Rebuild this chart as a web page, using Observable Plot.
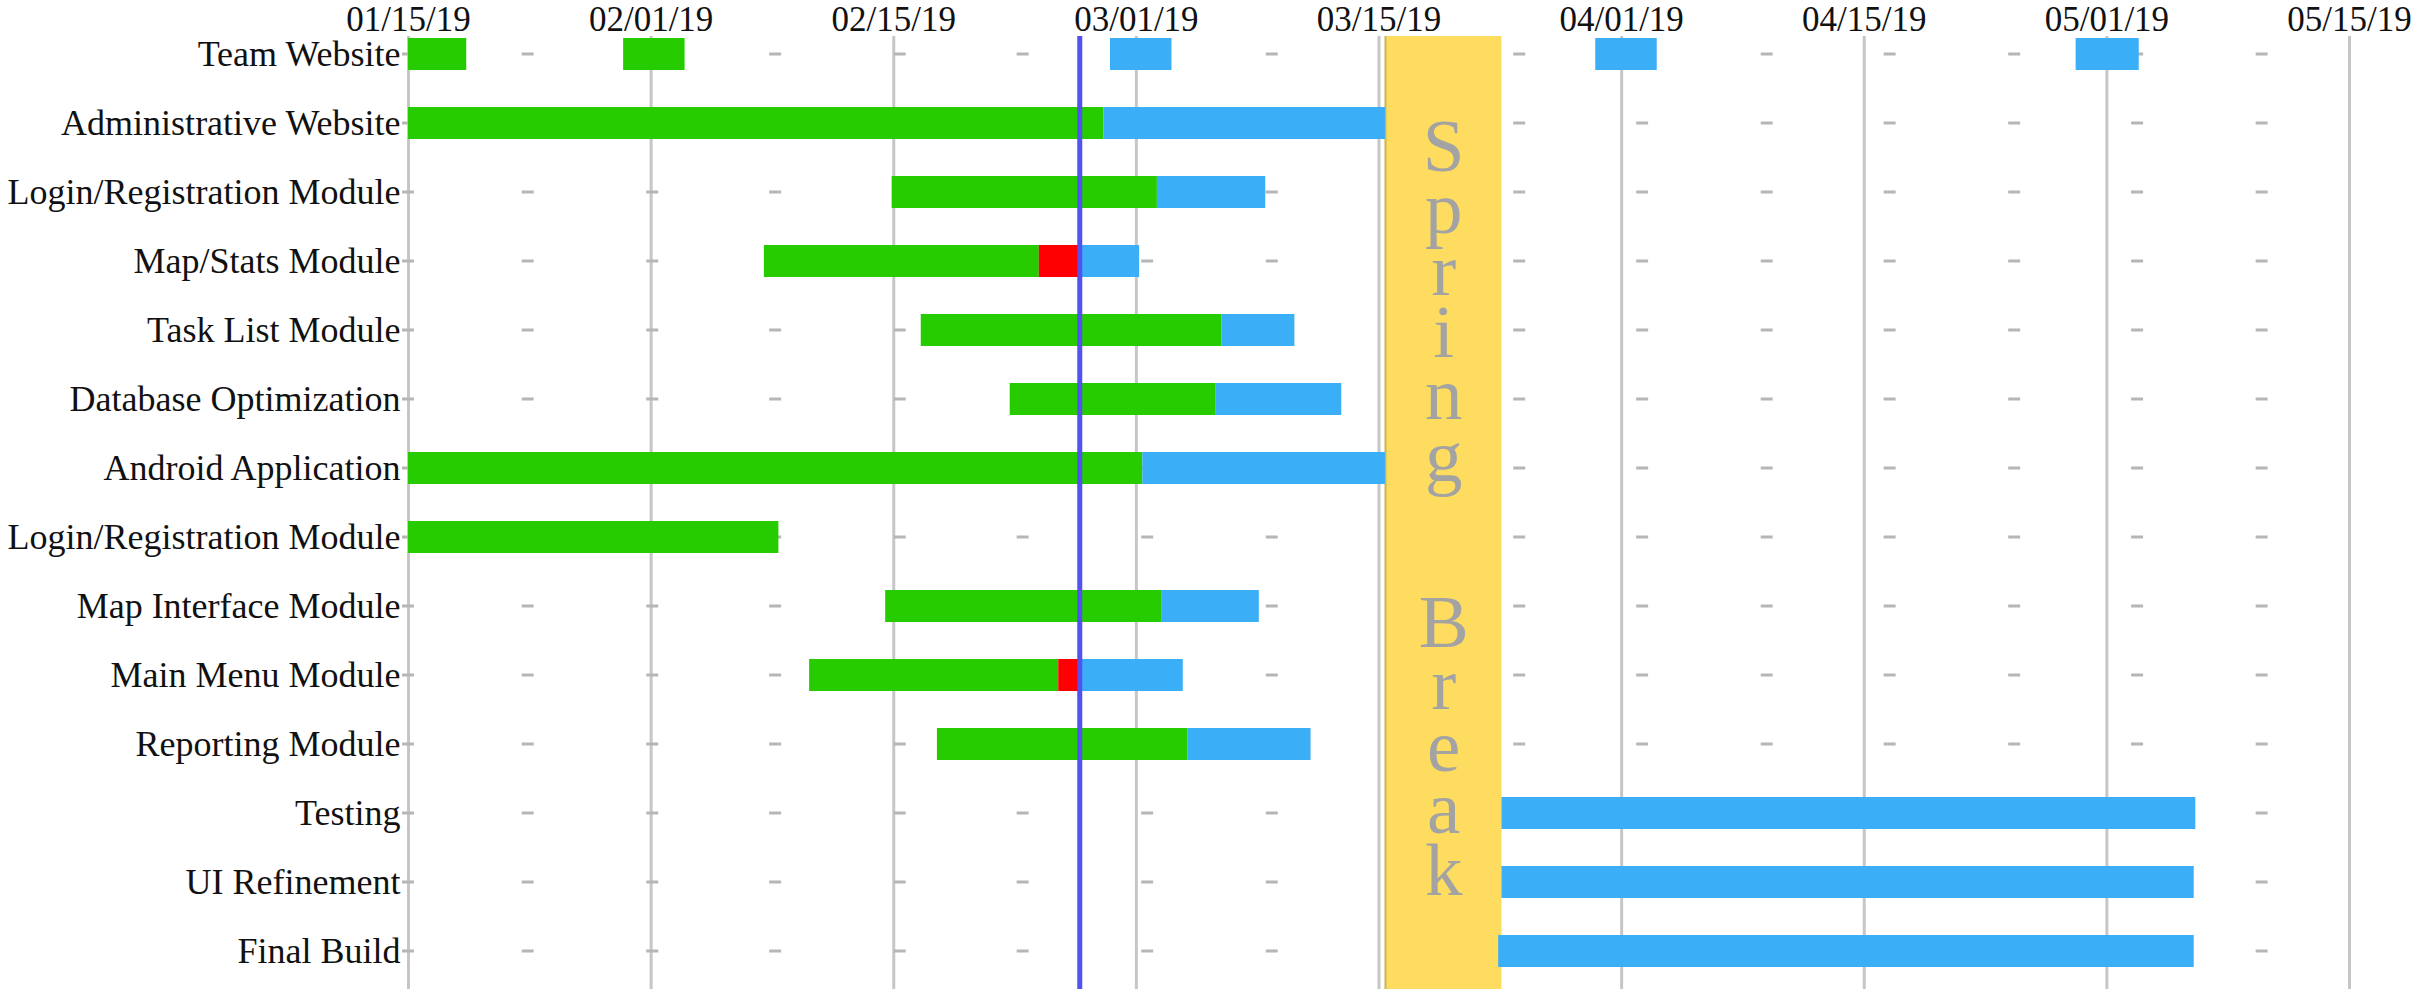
<!DOCTYPE html>
<html>
<head>
<meta charset="utf-8">
<script src="https://cdn.jsdelivr.net/npm/d3@7"></script>
<script src="https://cdn.jsdelivr.net/npm/@observablehq/plot@0.6"></script>
<style>
  html, body { margin: 0; padding: 0; background: #fff; }
  #chart svg { display: block; }
</style>
</head>
<body>
<div id="chart"></div>
<script>
// ---- data (x values are days since 01/15/19) ----
const tasks = [
  "Team Website",
  "Administrative Website",
  "Login/Registration Module",
  "Map/Stats Module",
  "Task List Module",
  "Database Optimization",
  "Android Application",
  "Login/Registration Module",
  "Map Interface Module",
  "Main Menu Module",
  "Reporting Module",
  "Testing",
  "UI Refinement",
  "Final Build"
];
const tickDays = [0, 15, 30, 45, 60, 75, 90, 105, 120];
const tickLabels = ["01/15/19", "02/01/19", "02/15/19", "03/01/19", "03/15/19", "04/01/19", "04/15/19", "05/01/19", "05/15/19"];
const minorDays = [0, 7.4, 15.1, 22.7, 30.4, 38.0, 45.7, 53.4, 61.0, 68.7, 76.3, 84.0, 91.6, 99.3, 106.9, 114.6];

const segRow    = [0, 0, 0, 0, 0,   1, 1,   2, 2,   3, 3, 3,   4, 4,   5, 5,   6, 6,   7,   8, 8,   9, 9, 9,   10, 10,   11, 12, 13];
const segStart  = [0, 13.3, 43.4, 73.4, 103.1,   0, 43.0,   29.9, 46.3,   22.0, 39.0, 41.5,   31.7, 50.3,   37.2, 49.9,   0, 45.4,   0,   29.5, 46.6,   24.8, 40.2, 41.5,   32.7, 48.2,   67.6, 67.6, 67.4];
const segEnd    = [3.6, 17.1, 47.2, 77.2, 107.0,   43.0, 60.4,   46.3, 53.0,   39.0, 41.5, 45.2,   50.3, 54.8,   49.9, 57.7,   45.4, 60.4,   22.9,   46.6, 52.6,   40.2, 41.5, 47.9,   48.2, 55.8,   110.5, 110.4, 110.4];
const segStatus = ["done", "done", "planned", "planned", "planned",
  "done", "planned",  "done", "planned",  "done", "late", "planned",
  "done", "planned",  "done", "planned",  "done", "planned",  "done",
  "done", "planned",  "done", "late", "planned",  "done", "planned",
  "planned", "planned", "planned"];

const springBreak = [60.4, 67.6];
const springWords = ["Spring", "Break"];
const springWordRows = [4, 10];
const today = 41.5;

const statusNames = ["done", "late", "planned"];
const statusColors = ["#27cc00", "#ff0000", "#3aaef7"];

// ---- build tables ----
const segments = segRow.map((r, i) => ({row: r, start: segStart[i], end: segEnd[i], status: segStatus[i]}));
const dashes = d3.cross(d3.range(tasks.length), minorDays).map(([row, day]) => ({row, day}));
const springText = springWords.map((w, i) => ({
  x: (springBreak[0] + springBreak[1]) / 2,
  row: springWordRows[i],
  text: w.split("").join("\n")
}));

const font = "'Liberation Serif', 'Times New Roman', serif";

const chart = Plot.plot({
  width: 2412,
  height: 995,
  marginLeft: 408,
  marginRight: 63,
  marginTop: 16,
  marginBottom: 6,
  style: {fontFamily: font, background: "#fff", color: "#111"},
  x: {domain: [0, 120], axis: null},
  y: {type: "band", domain: d3.range(tasks.length), paddingInner: 0.54, paddingOuter: 0.27, axis: null},
  color: {domain: statusNames, range: statusColors},
  marks: [
    Plot.ruleX(tickDays, {stroke: "#c6c6c6", strokeWidth: 3, insetTop: 20}),
    Plot.barX(dashes, {y: "row", x1: d => d.day - 0.37, x2: d => d.day + 0.37, fill: "#b6b6b6", insetTop: 14.5, insetBottom: 14.5}),
    Plot.rect([springBreak], {x1: d => d[0], x2: d => d[1], fill: "#fedc5f", insetTop: 20}),
    Plot.ruleX([springBreak[0]], {stroke: "#cdb45e", strokeWidth: 2, insetTop: 20}),
    Plot.barX(segments, {y: "row", x1: "start", x2: "end", fill: "status"}),
    Plot.ruleX([today], {stroke: "#5252f0", strokeWidth: 5, insetTop: 20}),
    Plot.text(springText.slice(0, 1), {x: "x", y: "row", text: "text", fontSize: 75, lineHeight: 0.827, fill: "#a3a3a3", dy: -24, fontFamily: font}),
    Plot.text(springText.slice(1), {x: "x", y: "row", text: "text", fontSize: 75, lineHeight: 0.827, fill: "#a3a3a3", dy: 7, fontFamily: font}),
    Plot.axisX({anchor: "top", ticks: tickDays, tickFormat: d => tickLabels[tickDays.indexOf(d)], tickSize: 0, tickPadding: -14, fontSize: 35, label: null, fill: "#111"}),
    Plot.axisY({ticks: d3.range(tasks.length), tickFormat: i => tasks[i], tickSize: 0, tickPadding: 8, fontSize: 36, label: null, fill: "#111"})
  ]
});
document.getElementById("chart").appendChild(chart);
</script>
</body>
</html>
